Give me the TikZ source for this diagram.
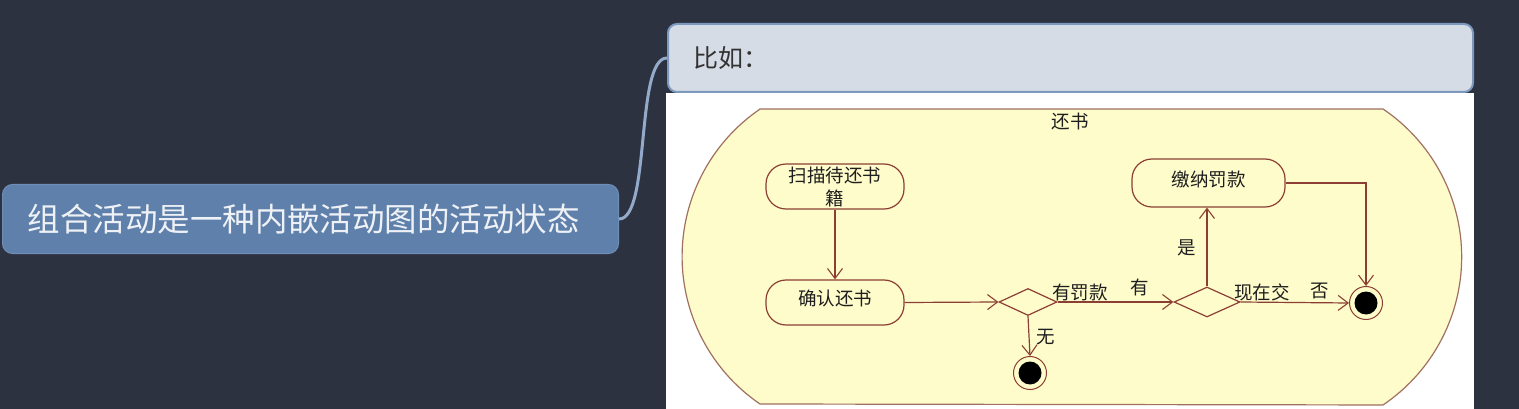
\documentclass[tikz,border=0pt]{standalone}
\usepackage{fontspec}
\newfontfamily\cjk{Noto Sans CJK SC}
\usetikzlibrary{arrows.meta,shapes.geometric}
\definecolor{bgdark}{RGB}{45,50,64}
\definecolor{mainfill}{RGB}{94,128,170}
\definecolor{mainborder}{RGB}{110,142,182}
\definecolor{maintext}{RGB}{238,241,246}
\definecolor{topfill}{RGB}{214,220,230}
\definecolor{topborder}{RGB}{125,152,189}
\definecolor{toptext}{RGB}{50,50,50}
\definecolor{connc}{RGB}{147,170,203}
\definecolor{umlyellow}{RGB}{254,252,202}
\definecolor{umlborder}{RGB}{160,112,96}
\definecolor{umlline}{RGB}{140,62,52}
\definecolor{umltextc}{RGB}{30,30,30}
\tikzset{
  mainbox/.style={draw=mainborder, line width=1pt, fill=mainfill, rounded corners=10pt, anchor=north west, text=maintext, font=\cjk\fontsize{32.5}{36}\selectfont, align=left},
  topbox/.style={draw=topborder, line width=2pt, fill=topfill, rounded corners=9pt, anchor=north west, text=toptext, font=\cjk\fontsize{25}{28}\selectfont, align=left},
  conn/.style={draw=connc, line width=3pt},
  umltext/.style={text=umltextc, font=\cjk\fontsize{18.5}{22}\selectfont, inner sep=0pt},
  actbox/.style={draw=umlline, line width=1.2pt, rounded corners=20pt, minimum height=45pt, text=umltextc, font=\cjk\fontsize{18.5}{21}\selectfont, align=center, inner sep=0pt},
  choice/.style={draw=umlline, line width=1.2pt, shape=diamond, inner sep=0pt},
  endstate/.style={draw=umlline, line width=1pt, circle, minimum size=33pt, inner sep=0pt, path picture={\fill[black] (path picture bounding box.center) circle (11.5pt);}},
  flow/.style={draw=umlline, line width=1.2pt, -{Straight Barb[length=10pt,width=15pt,line width=1.1pt]}}
}
\begin{document}
\begin{tikzpicture}[x=1pt,y=1pt]
\fill[bgdark] (0,0) rectangle (1519,-409);
\useasboundingbox (0,0) rectangle (1519,-409);
% mind map nodes
\node[mainbox, minimum width=616pt, minimum height=69pt, text width=566pt, inner xsep=25pt] (main) at (2,-184) {组合活动是一种内嵌活动图的活动状态};
\node[topbox, minimum width=805pt, minimum height=68pt, text width=755pt, inner xsep=25pt] (top) at (667,-23) {比如：};
\draw[conn] (main.east) .. controls +(32,0) and +(-32,0) .. (top.west);
% picture area
\fill[white] (666,-93) rectangle (1474,-409);
\draw[draw=umlborder, line width=1.2pt, fill=umlyellow] (760,-109) -- (1383,-109)
  arc[start angle=56, end angle=-56, radius=178.5] -- (760,-404)
  arc[start angle=235.7, end angle=124.3, radius=178.5] -- cycle;
\node[umltext] (title) at (1070,-122) {还书};
% activities
\node[actbox, minimum width=138pt] (scan) at (835,-186.5) {\raisebox{-7pt}[0pt][0pt]{\begin{tabular}{@{}c@{}}扫描待还书\\[1pt]籍\end{tabular}}};
\node[actbox, minimum width=138pt] (confirm) at (835,-302.5) {\raisebox{10pt}{确认还书}};
\node[actbox, minimum width=153pt, minimum height=48pt] (pay) at (1208.5,-183) {\raisebox{9pt}{缴纳罚款}};
\node[choice, minimum width=58pt, minimum height=27pt] (d1) at (1028,-302) {};
\node[choice, minimum width=66pt, minimum height=30pt] (d2) at (1207,-302) {};
\node[endstate] (f1) at (1030,-373) {};
\node[endstate] (f2) at (1366,-303) {};
% flows
\draw[flow] (scan.south) -- (confirm.north);
\draw[flow] (confirm.east) -- (d1.west);
\draw[flow] (d1.east) -- (d2.west);
\draw[flow] (d1.south) -- (f1.north);
\draw[flow] (d2.north) -- (d2.north |- pay.south);
\draw[flow] (d2.east) -- (f2.west);
\draw[flow] (pay.east) -| (f2.north);
% guard labels
\node[umltext] (l1) at (1080,-292) {有罚款};
\node[umltext] (l2) at (1140,-287) {有};
\node[umltext] (l3) at (1046,-337) {无};
\node[umltext] (l4) at (1187,-248) {是};
\node[umltext] (l5) at (1262,-292) {现在交};
\node[umltext] (l6) at (1320,-291) {否};
\end{tikzpicture}
\end{document}
